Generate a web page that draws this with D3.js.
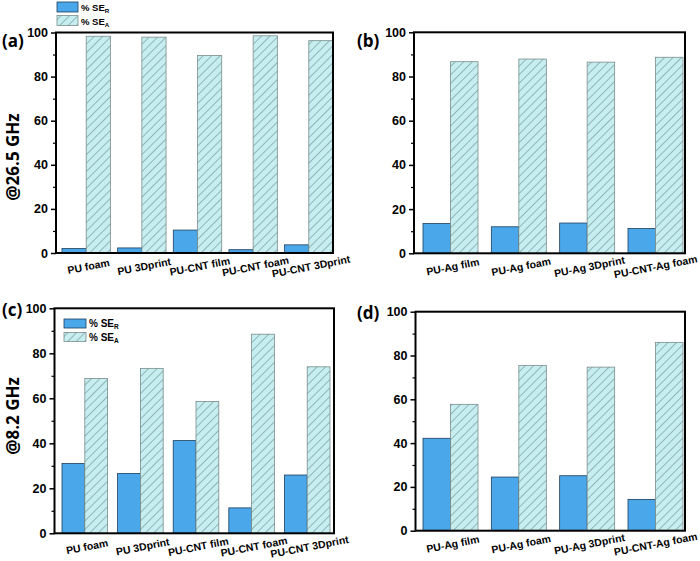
<!DOCTYPE html>
<html><head><meta charset="utf-8">
<script src="https://cdn.jsdelivr.net/npm/d3@7"></script>
<style>body{margin:0;background:#fff}svg{display:block}</style>
</head><body>
<svg id="chart" width="700" height="561"></svg>
<script>
const catsA = ["PU foam","PU 3Dprint","PU-CNT film","PU-CNT foam","PU-CNT 3Dprint"];
const catsB = ["PU-Ag film","PU-Ag foam","PU-Ag 3Dprint","PU-CNT-Ag foam"];
const seR_a = [2.0, 2.3, 10.4, 1.5, 3.7];
const seA_a = [98.3, 97.9, 89.6, 98.5, 96.3];
const seR_b = [13.5, 12.0, 13.7, 11.2];
const seA_b = [86.7, 87.9, 86.5, 88.7];
const seR_c = [31.0, 26.6, 41.2, 11.3, 25.9];
const seA_c = [68.8, 73.3, 58.6, 88.5, 74.0];
const seR_d = [42.2, 24.5, 25.1, 14.3];
const seA_d = [57.7, 75.5, 74.7, 86.0];
const yTicks = [0, 20, 40, 60, 80, 100];
const yMinor = [10, 30, 50, 70, 90];
const seriesNames = ["% SE", "% SE"];
const seriesSubs = ["R", "A"];

const svg = d3.select("#chart");
const defs = svg.append("defs");
const pat = defs.append("pattern").attr("id","hatch").attr("patternUnits","userSpaceOnUse")
  .attr("width",6).attr("height",6).attr("patternTransform","rotate(45)");
pat.append("rect").attr("width",6).attr("height",6).attr("fill","#c6eef0");
pat.append("line").attr("x1",0).attr("y1",0).attr("x2",0).attr("y2",6)
  .attr("stroke","#4f6f70").attr("stroke-width",0.9);

const BLUE = "#4aa7ea";
const FONT = "'Liberation Sans', Arial, sans-serif";

const panels = [
  {label:"(a)", lx:2, ly:47, cats:catsA, r:seR_a, a:seA_a, x0:56, x1:333, y0:253, y1:32.5, bx0:62, bx1:333, pad:0.13},
  {label:"(b)", lx:357, ly:47, cats:catsB, r:seR_b, a:seA_b, x0:414, x1:685, y0:253.3, y1:32.3, bx0:423, bx1:683, pad:0.195},
  {label:"(c)", lx:2, ly:316, cats:catsA, r:seR_c, a:seA_c, x0:54.5, x1:334, y0:533.3, y1:308.3, bx0:62, bx1:330, pad:0.18},
  {label:"(d)", lx:357, ly:319, cats:catsB, r:seR_d, a:seA_d, x0:415.5, x1:685, y0:530.7, y1:311.7, bx0:423, bx1:683, pad:0.195}
];

panels.forEach(p => {
  const g = svg.append("g");
  const y = d3.scaleLinear().domain([0,100]).range([p.y0, p.y1]);
  const x = d3.scaleBand().domain(p.cats).range([p.bx0, p.bx1]).paddingInner(p.pad).paddingOuter(0);
  const xs = d3.scaleBand().domain(["R","A"]).range([0, x.bandwidth()]);

  const grp = g.selectAll(".grp").data(p.cats).join("g")
    .attr("transform", d => `translate(${x(d)},0)`);
  grp.append("rect")
    .attr("x", xs("R")).attr("width", xs.bandwidth())
    .attr("y", (d,i) => y(p.r[i])).attr("height", (d,i) => y(0) - y(p.r[i]))
    .attr("fill", BLUE).attr("stroke", "#1d3f5e").attr("stroke-width", 0.8);
  grp.append("rect")
    .attr("x", xs("A")).attr("width", xs.bandwidth())
    .attr("y", (d,i) => y(p.a[i])).attr("height", (d,i) => y(0) - y(p.a[i]))
    .attr("fill", "url(#hatch)").attr("stroke", "#7a8c8c").attr("stroke-width", 0.8);

  g.append("rect").attr("x", p.x0).attr("y", p.y1).attr("width", p.x1 - p.x0).attr("height", p.y0 - p.y1)
    .attr("fill","none").attr("stroke","#000").attr("stroke-width",2);

  const ya = g.append("g").attr("transform", `translate(${p.x0},0)`)
    .call(d3.axisLeft(y).tickValues(yTicks).tickSize(5).tickPadding(3));
  ya.select(".domain").remove();
  ya.selectAll("line").attr("stroke","#000").attr("stroke-width",1.5);
  ya.selectAll("text").attr("font-family", FONT).attr("font-weight","bold").attr("font-size",12.5).attr("fill","#000");
  const ym = g.append("g").attr("transform", `translate(${p.x0},0)`)
    .call(d3.axisLeft(y).tickValues(yMinor).tickSize(3).tickFormat(""));
  ym.select(".domain").remove();
  ym.selectAll("line").attr("stroke","#000").attr("stroke-width",1.2);

  const xl = g.selectAll(".xl").data(p.cats).join("text")
    .attr("text-anchor","middle")
    .attr("font-family", FONT).attr("font-weight","bold").attr("font-size",10.5)
    .text(d => d);
  xl.each(function(d) {
    let cx = x(d) + x.bandwidth()/2 + 3;
    const w = this.getComputedTextLength() * Math.cos(Math.PI/18);
    if (cx + w/2 > 698) cx = 698 - w/2;
    d3.select(this).attr("transform", `translate(${cx},${p.y0 + 17}) rotate(-11)`);
  });

  g.append("text").attr("x", p.lx).attr("y", p.ly)
    .attr("font-family", "'Open Sans', sans-serif").attr("font-weight","bold").attr("font-size",17)
    .text(p.label);
});

[["@26.5 GHz", 157], ["@8.2 GHz", 416]].forEach(([t, cy]) => {
  svg.append("text").attr("transform", `translate(19,${cy}) rotate(-90)`)
    .attr("text-anchor","middle")
    .attr("font-family","'Open Sans', sans-serif").attr("font-weight","bold").attr("font-size",17)
    .text(t);
});

function legend(x0, y0, bw, bh, gap, fs) {
  const lg = svg.append("g").attr("transform", `translate(${x0},${y0})`);
  seriesSubs.forEach((s, i) => {
    lg.append("rect").attr("x",0).attr("y", i*gap).attr("width",bw).attr("height",bh)
      .attr("fill", i === 0 ? BLUE : "url(#hatch)")
      .attr("stroke", i === 0 ? "#1d3f5e" : "#7a8c8c").attr("stroke-width",0.8);
    const t = lg.append("text").attr("x", bw + 3).attr("y", i*gap + bh - 1)
      .attr("font-family", FONT).attr("font-weight","bold").attr("font-size",fs);
    t.append("tspan").text(seriesNames[i]);
    t.append("tspan").attr("font-size", fs*0.65).attr("dy", 2).text(s);
  });
}
legend(57, 2, 21, 10, 13.5, 9.5);
legend(64, 319, 22, 9, 13.5, 10);
</script>
</body></html>
